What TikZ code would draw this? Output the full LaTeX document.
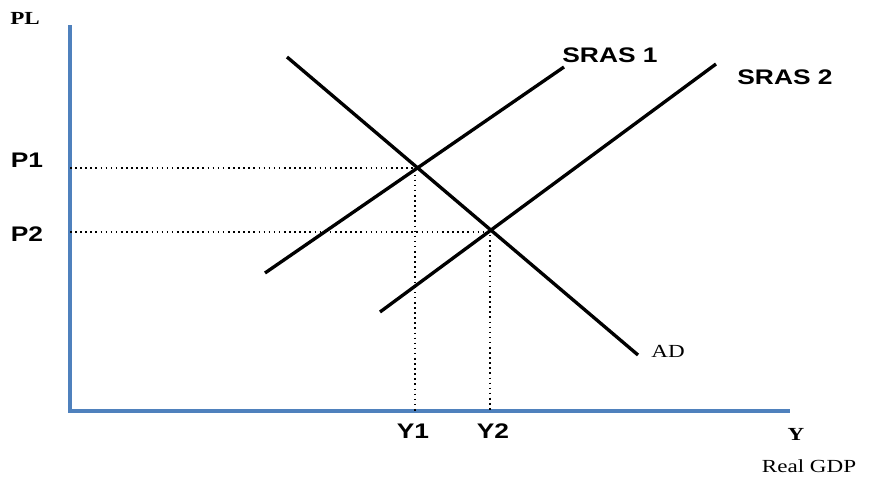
\documentclass[tikz,border=0pt]{standalone}
\usepackage{fontspec}
\setmainfont{Liberation Serif}
\setsansfont{Liberation Sans}
\usetikzlibrary{calc}
\definecolor{axisblue}{RGB}{79,129,189}
\newcommand{\wide}[1]{\scalebox{1.25}[1]{#1}}

\begin{document}
\begin{tikzpicture}[x=0.02cm,y=-0.02cm,
  axis/.style={axisblue,line width=2.4pt},
  curve/.style={black,line width=1.9pt},
  guide/.style={dotted,line width=0.9pt},
  lab/.style={font=\fontsize{12}{14}\sffamily\bfseries},
  slab/.style={font=\fontsize{10.5}{12}\rmfamily}]
  \useasboundingbox (0,0) rectangle (869,480);
  \coordinate (O) at (70,411);
  \coordinate (top) at (70,25);
  \coordinate (right) at (790,411);
  \draw[axis] (top) -- (O) -- (right);
  \node[slab] (pl) at (25,18) {\wide{\textbf{PL}}};
  \node[slab] (ylab) at (796,434) {\wide{\textbf{Y}}};
  \node[slab] (gdp) at (809,466) {\wide{Real GDP}};
  % curves
  \coordinate (ad1) at (287,57);
  \coordinate (ad2) at (638,355);
  \coordinate (s1a) at (265,273);
  \coordinate (s1b) at (564,67);
  \coordinate (s2a) at (380,312);
  \coordinate (s2b) at (716,64);
  \draw[curve] (ad1) -- (ad2);
  \draw[curve] (s1a) -- (s1b);
  \draw[curve] (s2a) -- (s2b);
  \node[slab] (ad) at (668,351) {\wide{AD}};
  \node[lab] (sras1) at (610,55) {\wide{SRAS 1}};
  \node[lab] (sras2) at (785,77) {\wide{SRAS 2}};
  % equilibria
  \coordinate (E1) at (415,168);
  \coordinate (E2) at (490,232);
  \draw[guide] (E1 -| O) -- (E1) -- (E1 |- O);
  \draw[guide] (E2 -| O) -- (E2) -- (E2 |- O);
  \node[lab] (p1) at (27,160) {\wide{P1}};
  \node[lab] (p2) at (27,234) {\wide{P2}};
  \node[lab] (y1) at (413,431) {\wide{Y1}};
  \node[lab] (y2) at (493,431) {\wide{Y2}};
\end{tikzpicture}
\end{document}
